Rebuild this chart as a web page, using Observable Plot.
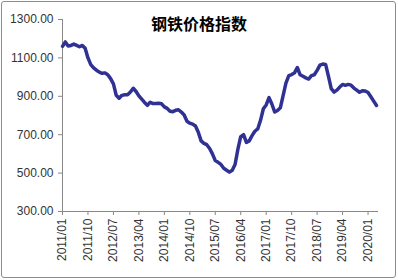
<!DOCTYPE html>
<html><head><meta charset="utf-8">
<script src="https://cdn.jsdelivr.net/npm/d3@7"></script>
<script src="https://cdn.jsdelivr.net/npm/@observablehq/plot@0.6"></script>
<style>
body{margin:0;background:#fff}
#wrap{position:relative;width:398px;height:280px;overflow:hidden;background:#fff}
#border{position:absolute;left:1px;top:1px;width:393px;height:275px;border:1px solid #8c8c8c;border-radius:3px;pointer-events:none}
#title{position:absolute;left:0;width:398px;top:11px;line-height:17px;text-align:center;font:bold 16px "Noto Sans CJK SC";color:#000}
</style></head><body>
<div id="wrap"><div id="chart"></div><div id="title">钢铁价格指数</div><div id="border"></div></div>
<script>
const title = "钢铁价格指数";
// monthly index values, 2011/01 .. 2020/04
const values = [
1160,1183,1162,1165,1172,1165,1158,1165,1150,1100,1065,1048,
1036,1026,1020,1022,1012,992,965,905,890,905,908,908,
922,942,925,902,885,868,853,869,862,862,864,861,
845,837,822,820,827,830,818,803,770,760,755,745,
713,668,655,648,628,600,565,556,545,525,515,505,
515,545,625,690,700,660,668,695,718,730,775,835,
855,893,860,818,826,840,905,970,1008,1013,1022,1050,
1012,1004,996,990,1008,1012,1035,1062,1068,1066,1005,940,
922,932,948,962,957,962,958,943,932,921,929,928,
920,898,875,852
];
const startYear = 2011;
const months = values.map((v, i) => `${startYear + Math.floor(i / 12)}/${String(i % 12 + 1).padStart(2, "0")}`);
const xTickLabels = ["2011/01","2011/10","2012/07","2013/04","2014/01","2014/10","2015/07","2016/04","2017/01","2017/10","2018/07","2019/04","2020/01"];
const yTicks = [300, 500, 700, 900, 1100, 1300];

const data = values.map((v, i) => ({i, month: months[i], value: v}));
const xTickIdx = xTickLabels.map(l => months.indexOf(l));

const chart = Plot.plot({
  width: 398,
  height: 280,
  marginLeft: 62,
  marginRight: 20,
  marginTop: 19,
  marginBottom: 69,
  style: {fontFamily: "Liberation Sans", fontSize: "12px", color: "#333", background: "transparent"},
  x: {domain: [0, 111.7]},
  y: {domain: [300, 1300]},
  marks: [
    Plot.axisY({ticks: yTicks, tickFormat: d => d.toFixed(2), tickSize: 4, tickPadding: 5, stroke: "#888", fill: "#333", label: null}),
    Plot.axisX({ticks: xTickIdx, tickFormat: i => months[i], tickRotate: -90, tickSize: 4, tickPadding: 3, stroke: "#888", fill: "#333", label: null}),
    Plot.ruleX([0], {stroke: "#888"}),
    Plot.ruleY([300], {stroke: "#888"}),
    Plot.lineY(data, {x: "i", y: "value", stroke: "#2f3193", strokeWidth: 3.5, strokeLinejoin: "round", strokeLinecap: "round"})
  ]
});
document.getElementById("chart").appendChild(chart);
</script>
</body></html>
